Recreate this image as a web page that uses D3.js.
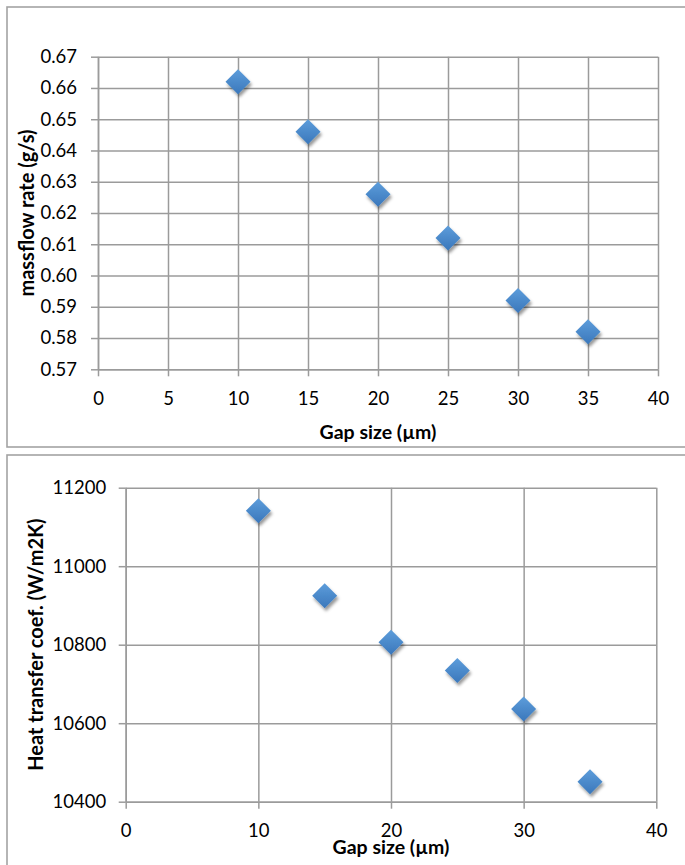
<!DOCTYPE html>
<html>
<head>
<meta charset="utf-8">
<script src="https://cdn.jsdelivr.net/npm/d3@7"></script>
<style>
  html, body { margin: 0; padding: 0; background: #fff; }
  svg { display: block; }
  text { font-family: Lato, "Open Sans", sans-serif; fill: #000; }
</style>
</head>
<body>
<svg id="chart" width="685" height="865"></svg>
<script>
// ---------- data ----------
const gapSizes   = [10, 15, 20, 25, 30, 35];
const massflow   = [0.662, 0.646, 0.626, 0.612, 0.592, 0.582];
const heatCoef   = [11141, 10925, 10806, 10734, 10636, 10451];

const massXTicks = [0, 5, 10, 15, 20, 25, 30, 35, 40];
const massYTicks = [0.57, 0.58, 0.59, 0.60, 0.61, 0.62, 0.63, 0.64, 0.65, 0.66, 0.67];
const heatXTicks = [0, 10, 20, 30, 40];
const heatYTicks = [10400, 10600, 10800, 11000, 11200];

const xTitle      = "Gap size (µm)";
const massYTitle  = "massflow rate (g/s)";
const heatYTitle  = "Heat transfer coef. (W/m2K)";

// ---------- drawing ----------
const svg = d3.select("#chart");
const defs = svg.append("defs");

const grad = defs.append("linearGradient").attr("id", "mk").attr("x1", 0).attr("y1", 0).attr("x2", 0).attr("y2", 1);
grad.append("stop").attr("offset", "0%").attr("stop-color", "#5d9ddb");
grad.append("stop").attr("offset", "100%").attr("stop-color", "#3a77bb");

const f = defs.append("filter").attr("id", "shadow").attr("x", "-50%").attr("y", "-50%").attr("width", "200%").attr("height", "200%");
f.append("feDropShadow").attr("dx", 1.5).attr("dy", 3).attr("stdDeviation", 1.8)
  .attr("flood-color", "#000").attr("flood-opacity", 0.4);

const gridColor = "#9b9b9b";

function drawChart(cfg) {
  const g = svg.append("g");
  // frame
  g.append("rect").attr("x", cfg.frame[0]).attr("y", cfg.frame[1])
    .attr("width", cfg.frame[2]).attr("height", cfg.frame[3])
    .attr("fill", "none").attr("stroke", "#a3a3a3").attr("stroke-width", 1.6);

  const x = d3.scaleLinear().domain([cfg.xTicks[0], cfg.xTicks[cfg.xTicks.length - 1]]).range([cfg.left, cfg.right]);
  const y = d3.scaleLinear().domain([cfg.yTicks[0], cfg.yTicks[cfg.yTicks.length - 1]]).range([cfg.bottom, cfg.top]);
  const w = cfg.right - cfg.left, h = cfg.bottom - cfg.top;

  // gridlines
  g.append("g").attr("transform", `translate(0,${cfg.bottom})`)
    .call(d3.axisBottom(x).tickValues(cfg.xTicks).tickSize(-h).tickFormat(""))
    .call(s => s.select(".domain").remove())
    .call(s => s.selectAll("line").attr("stroke", gridColor).attr("stroke-width", 1.5));
  g.append("g").attr("transform", `translate(${cfg.left},0)`)
    .call(d3.axisLeft(y).tickValues(cfg.yTicks).tickSize(-w).tickFormat(""))
    .call(s => s.select(".domain").remove())
    .call(s => s.selectAll("line").attr("stroke", gridColor).attr("stroke-width", 1.5));

  // axes
  const xa = g.append("g").attr("transform", `translate(0,${cfg.bottom})`)
    .call(d3.axisBottom(x).tickValues(cfg.xTicks).tickSize(7).tickSizeOuter(0).tickPadding(cfg.xPad).tickFormat(d3.format("d")));
  const ya = g.append("g").attr("transform", `translate(${cfg.left},0)`)
    .call(d3.axisLeft(y).tickValues(cfg.yTicks).tickSize(7).tickSizeOuter(0).tickPadding(cfg.yPad).tickFormat(d3.format(cfg.yFmt)));
  [xa, ya].forEach(a => {
    a.select(".domain").attr("stroke", gridColor).attr("stroke-width", 1.5);
    a.selectAll("line").attr("stroke", gridColor).attr("stroke-width", 1.5);
    a.selectAll("text").attr("font-family", "Lato, 'Open Sans', sans-serif").attr("font-size", cfg.tickFont).attr("fill", "#000");
  });

  // titles
  g.append("text").attr("x", (cfg.left + cfg.right) / 2).attr("y", cfg.xTitleY)
    .attr("text-anchor", "middle").attr("font-weight", "bold").attr("font-size", 19.5).text(xTitle);
  g.append("text").attr("transform", `translate(${cfg.yTitleX},${(cfg.top + cfg.bottom) / 2}) rotate(-90)`)
    .attr("text-anchor", "middle").attr("font-weight", "bold").attr("font-size", 20).text(cfg.yTitle);

  // markers
  const r = 12.5;
  g.append("g").selectAll("path").data(gapSizes.map((d, i) => [d, cfg.values[i]])).join("path")
    .attr("d", d => {
      const cx = x(d[0]), cy = y(d[1]);
      return `M${cx},${cy - r}L${cx + r},${cy}L${cx},${cy + r}L${cx - r},${cy}Z`;
    })
    .attr("fill", "url(#mk)").attr("filter", "url(#shadow)");
}

drawChart({
  frame: [7, 7, 700, 440],
  left: 98, right: 658, top: 56.7, bottom: 369.3,
  xTicks: massXTicks, yTicks: massYTicks, yFmt: ".2f", tickFont: 18.5,
  values: massflow, yTitle: massYTitle,
  xPad: 15.5, yPad: 14, xTitleY: 439, yTitleX: 34.3
});

drawChart({
  frame: [7, 455, 700, 440],
  left: 125.7, right: 656.3, top: 487.7, bottom: 801.7,
  xTicks: heatXTicks, yTicks: heatYTicks, yFmt: "d", tickFont: 18.5,
  values: heatCoef, yTitle: heatYTitle,
  xPad: 15, yPad: 12.5, xTitleY: 853.5, yTitleX: 43.3
});
</script>
</body>
</html>
